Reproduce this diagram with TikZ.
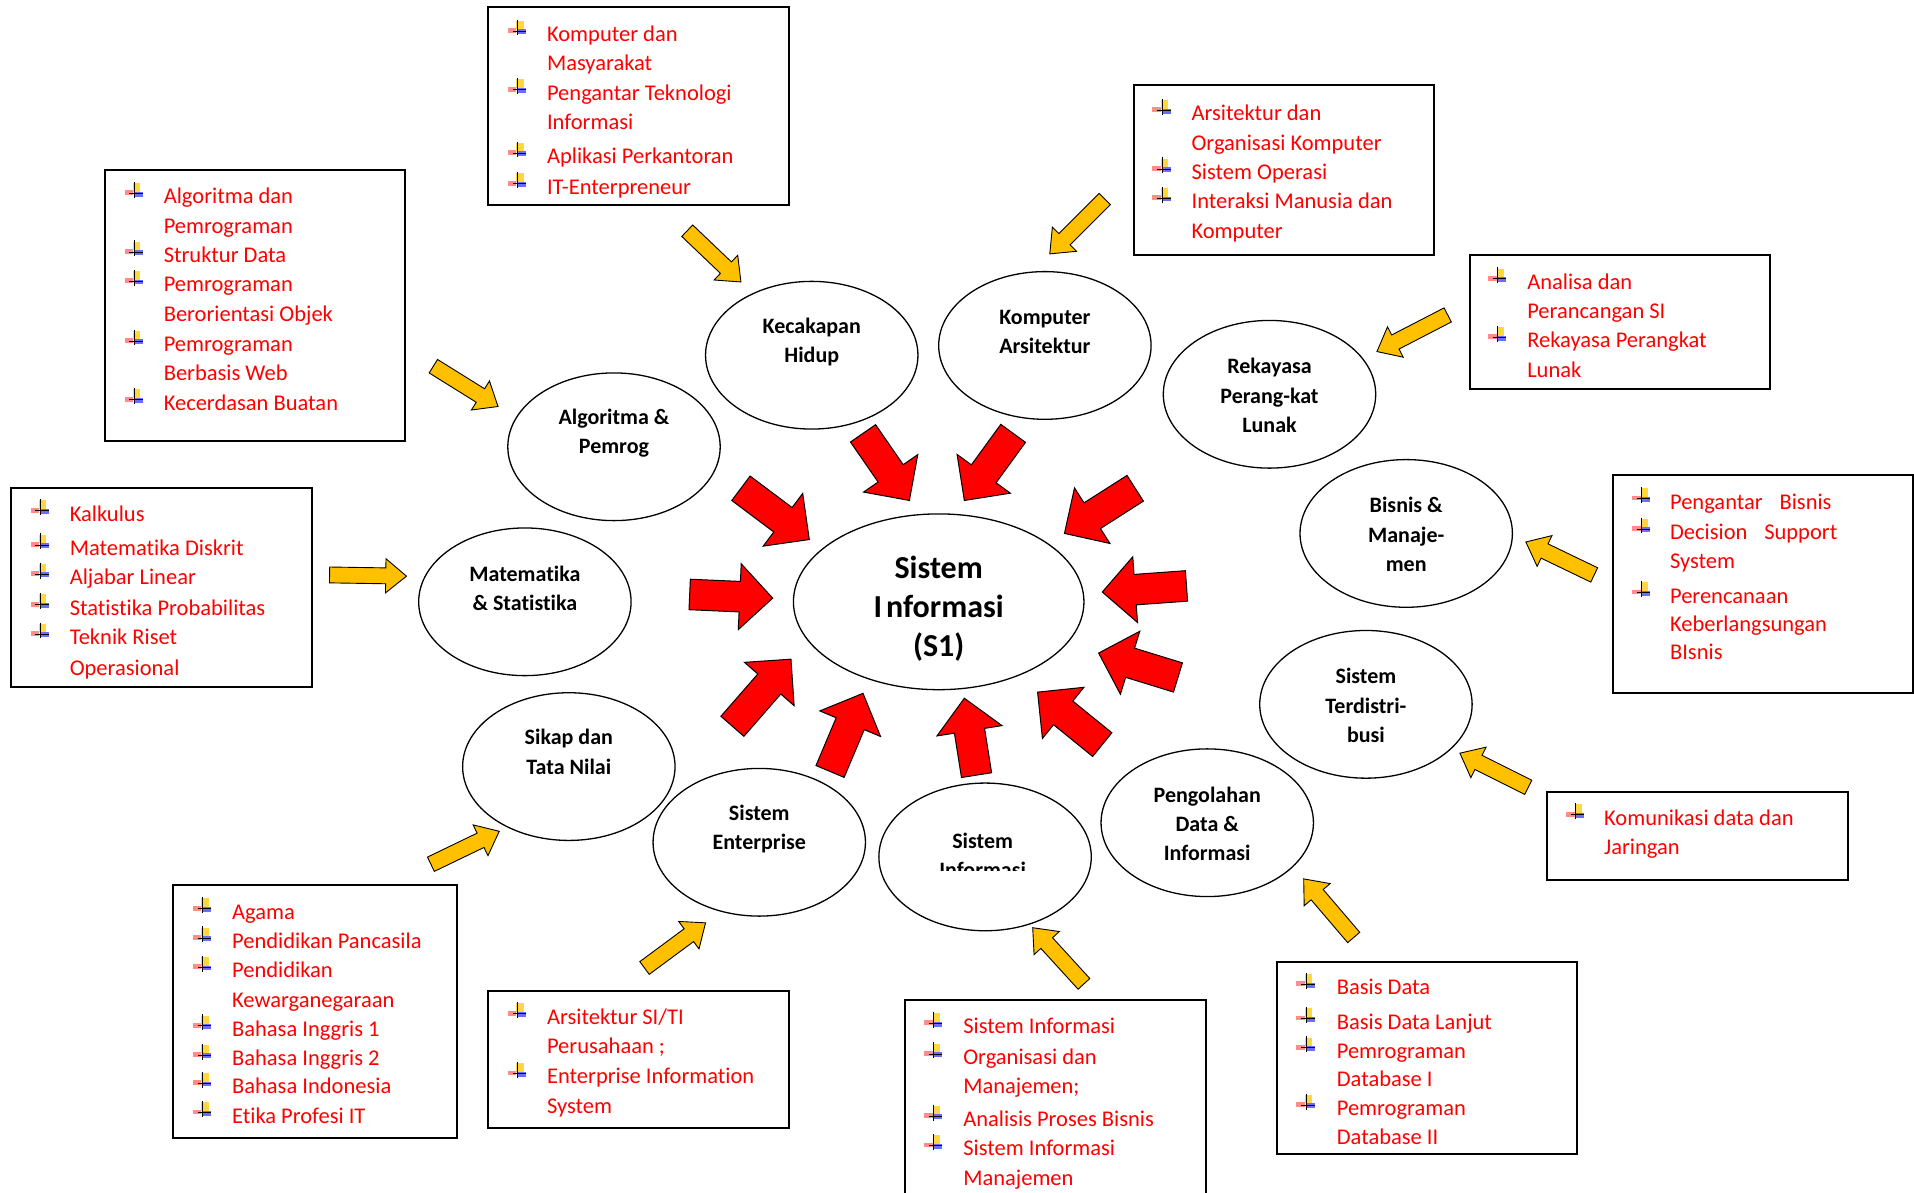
\documentclass[tikz,border=0pt]{standalone}
\usepackage{fontspec}
\setmainfont{Carlito}[Ligatures=NoCommon]
\usetikzlibrary{shapes.geometric}
\definecolor{itemred}{HTML}{FF0000}
\definecolor{arrowyel}{HTML}{FFC000}
\definecolor{bulyel}{HTML}{FFD21E}
\definecolor{bulred}{HTML}{FF5A5A}
\definecolor{bulblue}{HTML}{3C3CFF}
\newcommand{\blockarr}[8]{%
  \pgfmathsetmacro{\baang}{atan2(-(#5-#3),#4-#2)}%
  \pgfmathsetmacro{\balen}{veclen(#4-#2,#5-#3)}%
  \pgfmathsetmacro{\bab}{\balen-#8}%
  \begin{scope}[shift={(#2,#3)},rotate=\baang]
    \draw[#1] (0,-#6/2) -- (\bab,-#6/2) -- (\bab,-#7/2) -- (\balen,0) -- (\bab,#7/2) -- (\bab,#6/2) -- (0,#6/2) -- cycle;
  \end{scope}}
\newcommand{\boxat}[5]{%
  \node[listbox, minimum width={(#4-#2)*1.2207pt}, minimum height={(#5-#3)*1.2207pt}] (#1) at ({(#2+#4)/2},{(#3+#5)/2}) {};}
\tikzset{
  listbox/.style={draw=black, line width=2pt, rectangle, inner sep=0pt, fill=white},
  item/.style={text=itemred, font=\fontsize{22.5}{27}\selectfont, anchor=base west, inner sep=0pt},
  ell/.style={draw=black, line width=1.3pt, ellipse, inner sep=0pt, minimum width={174*1.2207pt}, minimum height={121*1.2207pt}},
  elltext/.style={font=\bfseries\fontsize{22}{29.3}\selectfont, align=center, inner sep=0pt},
  redarr/.style={fill=red, draw=black, line width=1pt, line join=miter},
  yelarr/.style={fill=arrowyel, draw=black, line width=0.9pt, line join=miter},
  bul/.pic={
    \fill[bulyel, opacity=0.85] (-1,-8) rectangle (5,-1);
    \fill[bulred, opacity=0.7] (-8,-2) rectangle (-1,2);
    \fill[bulblue, opacity=0.75] (0,-1) rectangle (7,3);
    \draw[line width=1pt] (0,-9) -- (0,4);
    \draw[line width=1pt] (-4,0.5) -- (7,0.5);
  }
}
\begin{document}
\begin{tikzpicture}[x=1.2207pt, y=-1.2207pt]
\useasboundingbox (0,0) rectangle (1568,977);
\clip (0,0) rectangle (1568,977);
\fill[white] (0,0) rectangle (1568,977);

% ---------- boxes ----------
\boxat{b1}{400}{6}{646}{168}
\boxat{b2}{86}{139}{332}{361}
\boxat{b3}{929}{70}{1175}{209}
\boxat{b4}{1204}{209}{1450}{319}
\boxat{b5}{9}{400}{256}{563}
\boxat{b6}{1321}{389}{1567}{568}
\boxat{b7}{1267}{649}{1514}{721}
\boxat{b8}{142}{725}{374}{932}
\boxat{b9}{400}{812}{646}{924}
\boxat{b10}{741}{819}{988}{995}
\boxat{b11}{1046}{788}{1292}{945}

% ---------- box texts ----------
\foreach \yy/\txt [count=\i] in {28/Komputer dan, 52/Masyarakat, 76/Pengantar Teknologi, 100/Informasi, 128/Aplikasi Perkantoran, 153/IT-Enterpreneur}
  \node[item] (b1t\i) at (448,\yy+6) {\txt};
\foreach \yy in {28,76,128,153} \pic at (424,\yy-3) {bul};

\foreach \yy/\txt [count=\i] in {161/Algoritma dan, 185/Pemrograman, 209/Struktur Data, 233/Pemrograman, 257/Berorientasi Objek, 282/Pemrograman, 306/Berbasis Web, 330/Kecerdasan Buatan}
  \node[item] (b2t\i) at (134,\yy+6) {\txt};
\foreach \yy in {161,209,233,282,330} \pic at (110,\yy-3) {bul};

\foreach \yy/\txt [count=\i] in {93/Arsitektur dan, 117/Organisasi Komputer, 141/Sistem Operasi, 165/Interaksi Manusia dan, 189/Komputer}
  \node[item] (b3t\i) at (976,\yy+6) {\txt};
\foreach \yy in {93,141,165} \pic at (952,\yy-3) {bul};

\foreach \yy/\txt [count=\i] in {231/Analisa dan, 255/Perancangan SI, 279/Rekayasa Perangkat, 303/Lunak}
  \node[item] (b4t\i) at (1251,\yy+6) {\txt};
\foreach \yy in {231,279} \pic at (1227,\yy-3) {bul};

\foreach \yy/\txt [count=\i] in {421/Kalkulus, 449/Matematika Diskrit, 473/Aljabar Linear, 498/Statistika Probabilitas, 522/Teknik Riset, 547/Operasional}
  \node[item] (b5t\i) at (57,\yy+6) {\txt};
\foreach \yy in {421,449,473,498,522} \pic at (33,\yy-3) {bul};

\foreach \yy/\txt [count=\i] in {411/{Pengantar\hspace{0.75em}Bisnis}, 436/{Decision\hspace{0.75em}Support}, 460/System, 488/Perencanaan, 511/Keberlangsungan, 534/BIsnis}
  \node[item] (b6t\i) at (1368,\yy+6) {\txt};
\foreach \yy in {411,436,488} \pic at (1345,\yy-3) {bul};

\foreach \yy/\txt [count=\i] in {670/Komunikasi data dan, 694/Jaringan}
  \node[item] (b7t\i) at (1314,\yy+6) {\txt};
\foreach \yy in {670} \pic at (1291,\yy-3) {bul};

\foreach \yy/\txt [count=\i] in {747/Agama, 771/Pendidikan Pancasila, 795/Pendidikan, 819/Kewarganegaraan, 843/Bahasa Inggris 1, 867/Bahasa Inggris 2, 890/Bahasa Indonesia, 914/Etika Profesi IT}
  \node[item] (b8t\i) at (190,\yy+6) {\txt};
\foreach \yy in {747,771,795,843,867,890,914} \pic at (166,\yy-3) {bul};

\foreach \yy/\txt [count=\i] in {833/{Arsitektur SI/TI}, 857/Perusahaan ;, 882/Enterprise Information, 906/System}
  \node[item] (b9t\i) at (448,\yy+6) {\txt};
\foreach \yy in {833,882} \pic at (424,\yy-3) {bul};

\foreach \yy/\txt [count=\i] in {841/Sistem Informasi, 866/Organisasi dan, 890/Manajemen;, 917/Analisis Proses Bisnis, 941/Sistem Informasi, 965/Manajemen}
  \node[item] (b10t\i) at (789,\yy+6) {\txt};
\foreach \yy in {841,866,917,941} \pic at (765,\yy-3) {bul};

\foreach \yy/\txt [count=\i] in {809/Basis Data, 837/Basis Data Lanjut, 861/Pemrograman, 884/Database I, 908/Pemrograman, 932/Database II}
  \node[item] (b11t\i) at (1095,\yy+6) {\txt};
\foreach \yy in {809,837,861,908} \pic at (1070,\yy-3) {bul};

% ---------- ellipses ----------
\node[ell] (kec) at (665,291) {};
\node[elltext] (kect) at (665,280) {Kecakapan\\Hidup};
\node[ell] (kom) at (856,283) {};
\node[elltext] (komt) at (856,272) {Komputer\\Arsitektur};
\node[ell] (rek) at (1040,323) {};
\node[elltext] (rekt) at (1040,324) {Rekayasa\\Perang-kat\\Lunak};
\node[ell] (alg) at (503,366) {};
\node[elltext] (algt) at (503,355) {Algoritma \&\\Pemrog};
\node[ell] (bis) at (1152,437) {};
\node[elltext] (bist) at (1152,438) {Bisnis \&\\Manaje-\\men};
\node[ell] (mat) at (430,493) {};
\node[elltext] (matt) at (430,482) {Matematika\\\& Statistika};
\node[ell] (ter) at (1119,577) {};
\node[elltext] (tert) at (1119,578) {Sistem\\Terdistri-\\busi};
\node[ell] (sik) at (466,628) {};
\node[elltext] (sikt) at (466,616) {Sikap dan\\Tata Nilai};
\node[ell] (pen) at (989,674) {};
\node[elltext] (pent) at (989,675) {Pengolahan\\Data \&\\Informasi};
\node[ell] (ent) at (622,690) {};
\node[elltext] (entt) at (622,679) {Sistem\\Enterprise};
\node[ell] (sib) at (807,702) {};
\begin{scope}
  \clip (700,640) rectangle (910,713.5);
  \node[elltext] (sibt) at (805,701) {Sistem\\Informasi};
\end{scope}
\node[draw=black, line width=1.3pt, ellipse, inner sep=0pt, minimum width={238*1.2207pt}, minimum height={144*1.2207pt}] (si) at (769,493) {};
\node[font=\bfseries\fontsize{32}{39}\selectfont, align=center, inner sep=0pt] (sit) at (769,499) {Sistem\\I\hspace{0.12em}nformasi\\(S1)};

% ---------- red arrows ----------
\blockarr{redarr}{607}{400}{663}{442}{25}{54}{27}
\blockarr{redarr}{707}{355}{745}{410}{25}{54}{27}
\blockarr{redarr}{830}{355}{790}{410}{25}{54}{27}
\blockarr{redarr}{930}{400}{872}{437}{25}{54}{27}
\blockarr{redarr}{972}{480}{903}{485}{25}{54}{27}
\blockarr{redarr}{965}{555}{900}{535}{25}{54}{27}
\blockarr{redarr}{903}{610}{850}{567}{25}{54}{27}
\blockarr{redarr}{800}{635}{790}{572}{25}{54}{27}
\blockarr{redarr}{680}{632}{707}{568}{25}{54}{27}
\blockarr{redarr}{600}{595}{648}{540}{25}{54}{27}
\blockarr{redarr}{565}{487}{633}{490}{25}{54}{27}

% ---------- yellow arrows ----------
\blockarr{yelarr}{563}{189}{607}{231}{13}{28}{17}
\blockarr{yelarr}{905}{163}{860}{208}{13}{28}{17}
\blockarr{yelarr}{1186}{258}{1128}{288}{13}{28}{17}
\blockarr{yelarr}{355}{300}{408}{333}{13}{28}{17}
\blockarr{yelarr}{270}{471}{333}{472}{13}{28}{17}
\blockarr{yelarr}{1306}{471}{1250}{444}{13}{28}{17}
\blockarr{yelarr}{1252}{645}{1196}{617}{13}{28}{17}
\blockarr{yelarr}{1109}{768}{1068}{720}{13}{28}{17}
\blockarr{yelarr}{888}{806}{846}{760}{13}{28}{17}
\blockarr{yelarr}{528}{793}{578}{756}{13}{28}{17}
\blockarr{yelarr}{353}{708}{409}{681}{13}{28}{17}
\end{tikzpicture}
\end{document}
